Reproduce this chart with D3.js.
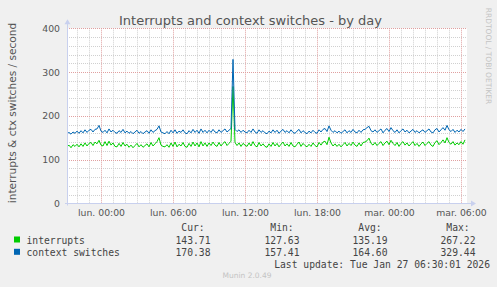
<!DOCTYPE html>
<html lang="fr">
<head>
<meta charset="UTF-8">
<title>Interrupts and context switches - by day</title>
<script src="https://d3js.org/d3.v7.min.js"></script>
<style>
  body { margin: 0; background: #f0f0f0; }
  svg { display: block; }
  .title { font-family: "DejaVu Sans", sans-serif; font-size: 13px; fill: #555; }
  .tick text { font-family: "DejaVu Sans", sans-serif; font-size: 9.3px; fill: #555; }
  .ylabel { font-family: "DejaVu Sans", sans-serif; font-size: 10.6px; fill: #555; }
  .legend { font-family: "DejaVu Sans Mono", monospace; font-size: 9.7px; fill: #444; }
  .small { font-family: "DejaVu Sans", sans-serif; font-size: 7.5px; fill: #c4c4c4; }
</style>
</head>
<body>
<svg width="497" height="287"></svg>
<script>
// samples every 10 min, Sun 25 Jan 21:10 -> Tue 27 Jan 06:30
var startTime = new Date(2026, 0, 25, 21, 10);
var endTime = new Date(2026, 0, 27, 6, 30);
var stepMinutes = 10;

var interrupts = [
  129,133,127,134,130,135,129,136,130,138,
  131,137,139,132,140,136,144,133,131,141,
  132,142,133,138,130,129,137,130,139,131,
  135,128,133,127,132,137,129,134,128,132,
  136,129,139,131,136,141,150,133,130,129,
  134,128,138,130,140,129,135,131,139,130,
  128,137,130,140,131,138,129,141,131,138,
  130,138,132,140,133,130,139,131,137,141,
  132,137,142,267,139,132,138,130,137,133,
  130,138,131,141,132,129,139,131,136,130,
  128,136,130,139,131,137,129,135,140,131,
  136,130,139,131,129,135,140,130,137,132,
  129,135,130,138,132,129,139,133,140,142,
  134,151,138,131,136,130,135,129,134,139,
  131,137,132,140,133,130,138,131,139,140,
  143,149,137,133,139,132,137,141,132,138,
  142,134,144,137,132,139,130,137,141,133,
  138,131,136,141,132,137,130,136,140,132,
  137,141,133,130,139,143,134,139,145,138,
  150,139,135,141,133,138,134,141,135,145
];
var contextSwitches = [
  159,162,158,163,160,165,160,166,161,168,
  162,167,169,163,169,170,178,165,162,167,
  161,170,163,167,162,160,166,162,169,161,
  165,160,164,159,163,167,160,164,159,163,
  166,160,168,162,166,169,177,163,161,159,
  164,159,167,161,168,160,165,162,168,161,
  159,166,161,169,162,167,160,170,162,167,
  161,167,162,169,163,161,168,162,166,170,
  163,167,171,329,169,164,168,162,167,163,
  161,167,162,170,163,160,168,162,166,161,
  159,165,161,168,162,167,160,165,169,162,
  166,161,168,162,160,165,169,161,166,162,
  159,165,161,167,162,160,168,163,169,171,
  164,177,167,162,166,161,165,160,164,168,
  161,166,162,169,163,161,167,162,168,169,
  173,176,166,163,168,162,166,170,161,167,
  171,164,173,166,162,168,161,166,170,163,
  167,161,165,169,162,166,161,165,168,162,
  166,170,163,161,168,171,163,168,173,167,
  178,168,164,169,162,167,163,169,164,170
];

var seriesNames = ["interrupts", "context switches"];
var seriesColors = ["#00cc00", "#0066b3"];
var curValues = ["143.71", "170.38"];
var minValues = ["127.63", "157.41"];
var avgValues = ["135.19", "164.60"];
var maxValues = ["267.22", "329.44"];

var xTickDates = [new Date(2026,0,26,0), new Date(2026,0,26,6), new Date(2026,0,26,12),
                  new Date(2026,0,26,18), new Date(2026,0,27,0), new Date(2026,0,27,6)];
var xTickLabels = ["lun. 00:00", "lun. 06:00", "lun. 12:00", "lun. 18:00", "mar. 00:00", "mar. 06:00"];
var yTicks = [0, 100, 200, 300, 400];

var plotLeft = 67, plotRight = 467, plotTop = 28.3, plotBottom = 203.3;

var svg = d3.select("svg");
svg.append("rect").attr("width", 497).attr("height", 287).attr("fill", "#f0f0f0");

var x = d3.scaleTime().domain([startTime, endTime]).range([plotLeft, plotRight]);
var y = d3.scaleLinear().domain([0, 400]).range([plotBottom, plotTop]);

svg.append("rect")
    .attr("x", plotLeft).attr("y", plotTop)
    .attr("width", plotRight - plotLeft).attr("height", plotBottom - plotTop)
    .attr("fill", "#fff");

// grid
var grid = svg.append("g");
var hours = d3.timeHour.range(d3.timeHour.ceil(startTime), endTime);
function px(v) { return Math.round(v) + 0.5; }
grid.selectAll("line.vmin")
    .data(hours.filter(function(d){ return d.getHours() % 6 !== 0; }))
    .enter().append("line")
    .attr("x1", function(d){ return px(x(d)); })
    .attr("x2", function(d){ return px(x(d)); })
    .attr("y1", plotTop).attr("y2", plotBottom)
    .attr("stroke", "#d0d0d0").attr("stroke-dasharray", "1,1");
var minorY = d3.range(20, 401, 20).filter(function(v){ return v % 100 !== 0; });
grid.selectAll("line.hmin")
    .data(minorY)
    .enter().append("line")
    .attr("x1", plotLeft).attr("x2", plotRight)
    .attr("y1", function(d){ return px(y(d)); })
    .attr("y2", function(d){ return px(y(d)); })
    .attr("stroke", "#d0d0d0").attr("stroke-dasharray", "1,1");
grid.selectAll("line.vmaj")
    .data(xTickDates)
    .enter().append("line")
    .attr("x1", function(d){ return px(x(d)); })
    .attr("x2", function(d){ return px(x(d)); })
    .attr("y1", plotTop).attr("y2", plotBottom)
    .attr("stroke", "#e0a0a0").attr("stroke-dasharray", "1,1");
grid.selectAll("line.hmaj")
    .data(yTicks.slice(1))
    .enter().append("line")
    .attr("x1", plotLeft).attr("x2", plotRight)
    .attr("y1", function(d){ return px(y(d)); })
    .attr("y2", function(d){ return px(y(d)); })
    .attr("stroke", "#e0a0a0").attr("stroke-dasharray", "1,1");

// axes labels
var yAxis = d3.axisLeft(y).tickValues(yTicks).tickSize(0).tickPadding(7);
svg.append("g").attr("transform", "translate(" + plotLeft + ",0)").call(yAxis)
    .call(function(g){ g.select(".domain").remove(); });

var xAxis = d3.axisBottom(x).tickValues(xTickDates).tickSize(0).tickPadding(6)
    .tickFormat(function(d, i){ return xTickLabels[i]; });
svg.append("g").attr("transform", "translate(0," + plotBottom + ")").call(xAxis)
    .call(function(g){ g.select(".domain").remove(); });

// data lines
var series = [interrupts, contextSwitches];
var line = d3.line()
    .x(function(d, i){ return x(new Date(startTime.getTime() + i * stepMinutes * 60000)); })
    .y(function(d){ return y(d); });
series.forEach(function(s, k){
  svg.append("path")
      .attr("d", line(s))
      .attr("fill", "none")
      .attr("stroke", seriesColors[k])
      .attr("stroke-width", 1);
});

// axis lines with arrows
var axisColor = "#c8d0ee";
var ax = plotLeft + 0.5, ay = Math.round(plotBottom) + 0.5;
svg.append("line").attr("x1", ax).attr("x2", ax).attr("y1", ay + 2).attr("y2", plotTop - 5)
    .attr("stroke", axisColor);
svg.append("path").attr("d", "M" + (ax - 3) + "," + (plotTop - 4) + "L" + (ax + 3) + "," + (plotTop - 4) + "L" + ax + "," + (plotTop - 9) + "Z")
    .attr("fill", axisColor);
svg.append("line").attr("x1", plotLeft - 2).attr("x2", plotRight + 5).attr("y1", ay).attr("y2", ay)
    .attr("stroke", axisColor);
svg.append("path").attr("d", "M" + (plotRight + 4) + "," + (ay - 3) + "L" + (plotRight + 4) + "," + (ay + 3) + "L" + (plotRight + 9) + "," + ay + "Z")
    .attr("fill", axisColor);

// titles
svg.append("text").attr("class", "title").attr("x", 250.5).attr("y", 24.5)
    .attr("text-anchor", "middle").text("Interrupts and context switches - by day");
svg.append("text").attr("class", "ylabel")
    .attr("transform", "translate(15.5,113) rotate(-90)")
    .attr("text-anchor", "middle").text("interrupts & ctx switches / second");
svg.append("text").attr("class", "small")
    .attr("transform", "translate(486,56) rotate(90)")
    .attr("text-anchor", "middle").text("RRDTOOL / TOBI OETIKER");

// legend
var colX = [193, 282, 370, 458];
var headers = ["Cur:", "Min:", "Avg:", "Max:"];
headers.forEach(function(h, i){
  svg.append("text").attr("class", "legend").attr("x", colX[i]).attr("y", 231)
      .attr("text-anchor", "middle").text(h);
});
seriesNames.forEach(function(name, k){
  var yy = 243.5 + k * 12.3;
  svg.append("rect").attr("x", 14).attr("y", yy - 7).attr("width", 6).attr("height", 6)
      .attr("fill", seriesColors[k]);
  svg.append("text").attr("class", "legend").attr("x", 26.5).attr("y", yy).text(name);
  [curValues, minValues, avgValues, maxValues].forEach(function(arr, i){
    svg.append("text").attr("class", "legend").attr("x", colX[i]).attr("y", yy)
        .attr("text-anchor", "middle").text(arr[k]);
  });
});
svg.append("text").attr("class", "legend").attr("x", 490).attr("y", 267.5)
    .attr("text-anchor", "end").text("Last update: Tue Jan 27 06:30:01 2026");
svg.append("text").attr("class", "small").attr("x", 247).attr("y", 278)
    .attr("text-anchor", "middle").text("Munin 2.0.49");
</script>
</body>
</html>
